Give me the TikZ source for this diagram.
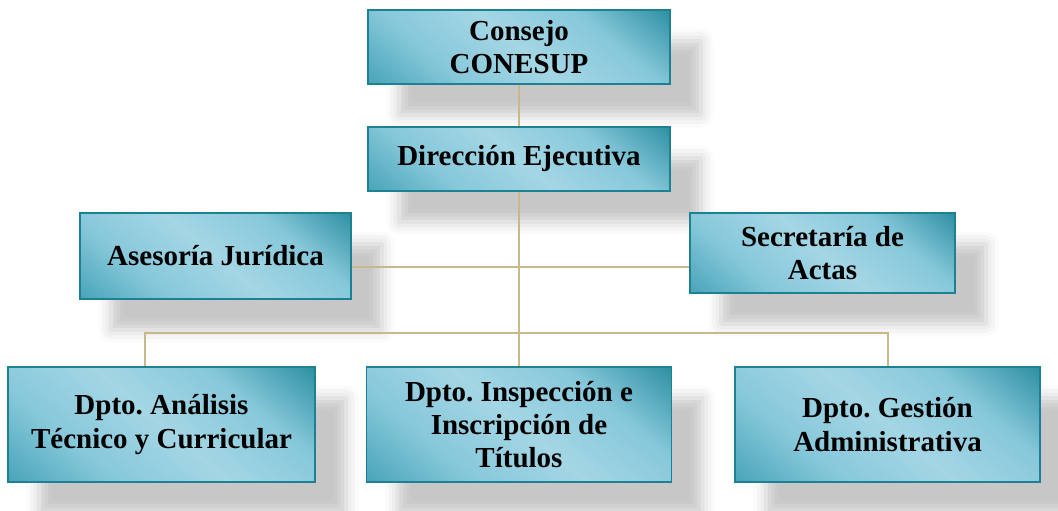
\documentclass[tikz,border=0pt]{standalone}
\usepackage{fontspec}
\setmainfont{Liberation Serif}
\usetikzlibrary{shadows.blur}
\definecolor{tealdark}{HTML}{2A8DA0}
\definecolor{tealmid}{HTML}{3F9EB3}
\definecolor{tealsoft}{HTML}{86C8DA}
\definecolor{teallight}{HTML}{A4D6E5}
\definecolor{tealedge}{HTML}{1C8193}
\definecolor{linktan}{HTML}{C9B98A}
\pgfdeclareverticalshading{unitshade}{100bp}{color(0bp)=(tealmid); color(12bp)=(tealmid); color(32bp)=(tealsoft); color(50bp)=(teallight); color(68bp)=(tealsoft); color(86bp)=(tealdark); color(100bp)=(tealdark)}
\begin{document}
\begin{tikzpicture}[
		unit/.style={draw=tealedge, line width=0.7pt, align=center, inner sep=2pt,
			shading=unitshade, shading angle=-40,
			font=\fontsize{16.5}{19}\selectfont\bfseries\frenchspacing,
			blur shadow={shadow xshift=0.62cm, shadow yshift=-0.62cm, shadow blur radius=0.25cm, shadow opacity=22}},
		link/.style={draw=linktan, line width=1.1pt}]
			\useasboundingbox (0,0) rectangle (21.16,-10.22);

			% Top boxes
			\node[unit, minimum width=6.04cm, minimum height=1.48cm] (consejo) at (10.38,-0.94) {Consejo\\CONESUP};
			\node[unit, minimum width=6.04cm, minimum height=1.28cm] (direccion) at (10.38,-3.18) {Dirección Ejecutiva};

			% Staff boxes
			\node[unit, minimum width=5.42cm, minimum height=1.72cm] (asesoria) at (4.31,-5.12) {Asesoría Jurídica};
			\node[unit, minimum width=5.3cm, minimum height=1.6cm] (secretaria) at (16.45,-5.06) {Secretaría de\\Actas};

			% Departments
			\node[unit, minimum width=6.14cm, minimum height=2.3cm] (analisis) at (3.23,-8.49) {Dpto. Análisis\\Técnico y Curricular};
			\node[unit, minimum width=6.1cm, minimum height=2.3cm] (inspeccion) at (10.38,-8.49) {Dpto. Inspección e\\Inscripción de\\Títulos};
			\node[unit, minimum width=6.1cm, minimum height=2.3cm] (gestion) at (17.75,-8.49) {Dpto. Gestión\\Administrativa};

			% Junctions
			\coordinate (staff) at (10.38,-5.34);
			\coordinate (busL) at (2.9,-6.66);
			\coordinate (busR) at (17.76,-6.66);

			% Connectors
			\draw[link] (consejo.south) -- (direccion.north);
			\draw[link] (direccion.south) -- (inspeccion.north);
			\draw[link] (asesoria.east |- staff) -- (secretaria.west |- staff);
			\draw[link] (busL |- analisis.north) -- (busL) -- (busR) -- (busR |- gestion.north);
		\end{tikzpicture}
\end{document}
